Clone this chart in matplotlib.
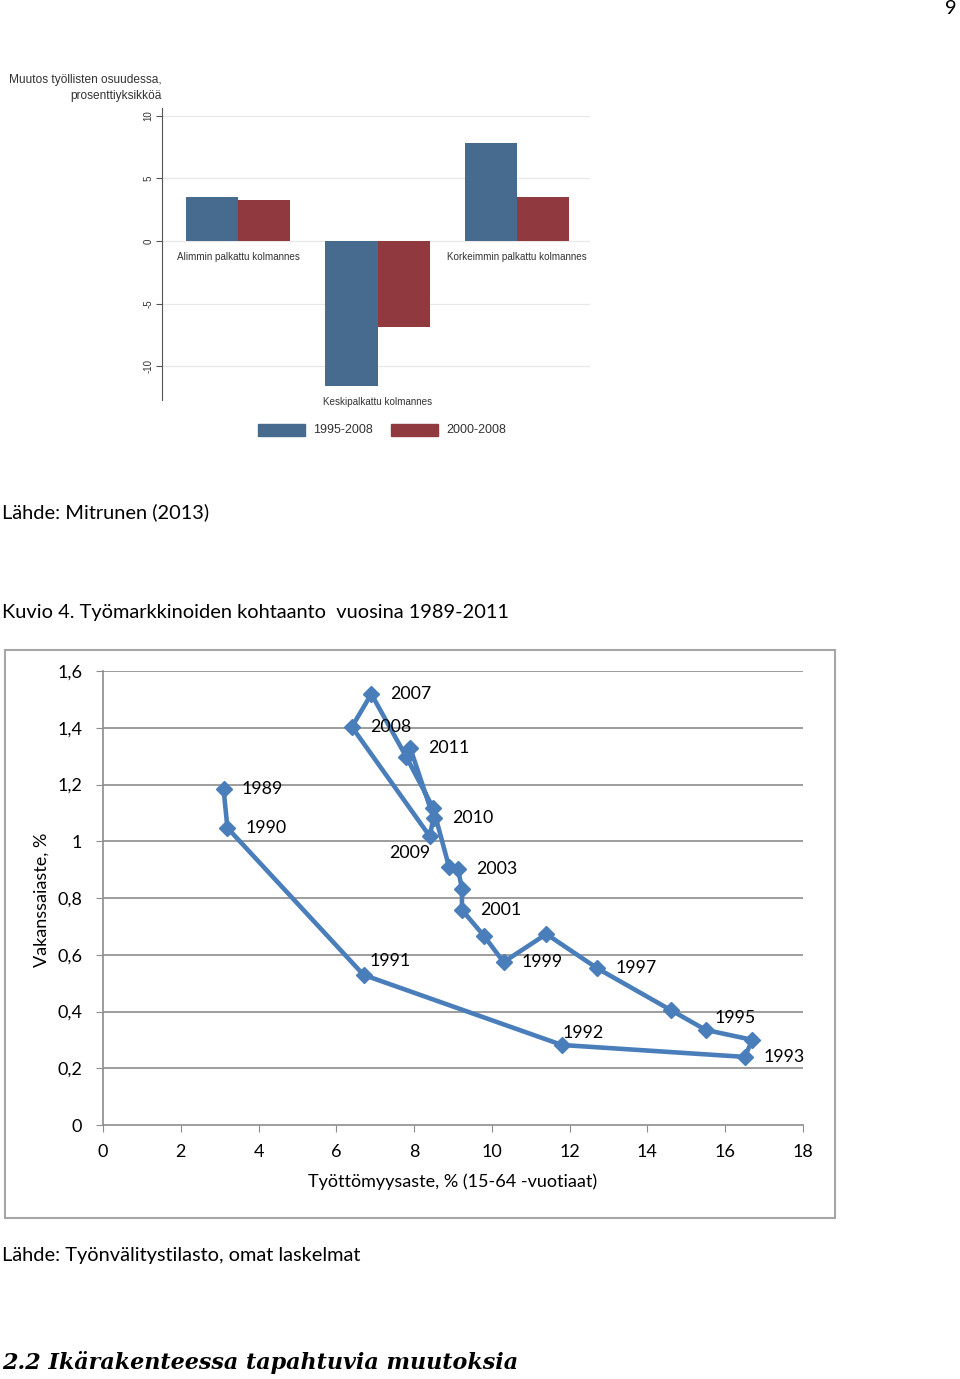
import matplotlib
matplotlib.use("Agg")
import matplotlib.pyplot as plt
from matplotlib.patches import Rectangle

W, H = 960, 1379

# --- bar chart data (upper image)
groups = ["Alimmin palkattu kolmannes", "Keskipalkattu kolmannes", "Korkeimmin palkattu kolmannes"]
change_1995_2008 = [3.5, -11.6, 7.8]
change_2000_2008 = [3.25, -6.9, 3.5]
bar_series = ["1995-2008", "2000-2008"]
bar_yticks = [-10, -5, 0, 5, 10]

# --- Beveridge curve data (lower chart)
years = list(range(1989, 2012))
unemployment = [3.1, 3.2, 6.7, 11.8, 16.5, 16.7, 15.5, 14.6, 12.7, 11.4, 10.3, 9.8,
                9.23, 9.23, 9.13, 8.9, 8.49, 7.8, 6.9, 6.4, 8.4, 8.5, 7.9]
vacancy = [1.184, 1.047, 0.529, 0.282, 0.240, 0.300, 0.335, 0.405, 0.553, 0.673, 0.574, 0.666,
           0.758, 0.832, 0.902, 0.909, 1.117, 1.297, 1.519, 1.403, 1.018, 1.082, 1.329]
labelled_years = [1989, 1990, 1991, 1992, 1993, 1995, 1997, 1999, 2001, 2003,
                  2007, 2008, 2009, 2010, 2011]
x_ticks = list(range(0, 19, 2))
y_ticks = [0, 0.2, 0.4, 0.6, 0.8, 1.0, 1.2, 1.4, 1.6]

# label offsets in pixels (right of the point unless moved)
label_off = {1991: (27, 14), 1992: (21, 12), 1995: (29, 12), 2009: (-20, -17)}

BODY = ["Lato", "DejaVu Sans"]
NARROW = ["Liberation Sans Narrow", "Liberation Sans", "DejaVu Sans"]


def fx(px):
    return px / W


def fy(py):
    return 1 - py / H


fig = plt.figure(figsize=(W / 100, H / 100), dpi=100)

# ---------------- upper bar chart ----------------
blue, red = "#476b8e", "#903a40"
ax1 = fig.add_axes([fx(162), fy(400), fx(590) - fx(162), fy(108) - fy(400)])
pos = range(len(groups))
bw = 0.373
ax1.bar([p - bw / 2 for p in pos], change_1995_2008, bw, color=blue, zorder=3)
ax1.bar([p + bw / 2 for p in pos], change_2000_2008, bw, color=red, zorder=3)
ax1.set_xlim(-0.545, 2.523)
ax1.set_ylim(-12.7, 10.6)
for v in bar_yticks:
    ax1.axhline(v, color="#e8e8e8", lw=0.9, zorder=1)
for s in ["top", "right", "bottom"]:
    ax1.spines[s].set_visible(False)
ax1.spines["left"].set_color("#555555")
ax1.set_xticks([])
ax1.set_yticks(bar_yticks)
ax1.set_yticklabels([str(v) for v in bar_yticks], rotation=90, va="center",
                    fontsize=7, family=NARROW, color="#333333")
ax1.tick_params(axis="y", length=4, color="#555555", pad=2)
for i, g in enumerate(groups):
    base = min(0, change_1995_2008[i], change_2000_2008[i]) if i == 1 else 0
    ax1.annotate(g, (i, base), xytext=(0, -16), textcoords="offset pixels",
                 ha="center", va="center", fontsize=7.1, family=NARROW, color="#333333")
fig.text(fx(162), fy(80), "Muutos työllisten osuudessa,", ha="right", va="center",
         fontsize=8.6, family=NARROW, color="#333333")
fig.text(fx(162), fy(96), "prosenttiyksikköä", ha="right", va="center",
         fontsize=8.6, family=NARROW, color="#333333")
for x0, c, lab in [(258, blue, bar_series[0]), (391, red, bar_series[1])]:
    fig.add_artist(Rectangle((fx(x0), fy(436)), fx(47), 12 / H, color=c,
                             transform=fig.transFigure))
    fig.text(fx(x0 + 55), fy(430), lab, ha="left", va="center", fontsize=9,
             family=NARROW, color="#333333")

# ---------------- page texts ----------------
fig.text(fx(957), fy(9), "9", ha="right", va="center", fontsize=14.4, family=BODY)
fig.text(fx(2), fy(512), "Lähde: Mitrunen (2013)", ha="left", va="center", fontsize=14.4, family=BODY)
fig.text(fx(2), fy(613), "Kuvio 4. Työmarkkinoiden kohtaanto  vuosina 1989-2011",
         ha="left", va="center", fontsize=14.4, family=BODY)
fig.text(fx(2), fy(1256), "Lähde: Työnvälitystilasto, omat laskelmat", ha="left",
         va="center", fontsize=14.4, family=BODY)
fig.text(fx(2), fy(1363), "2.2 Ikärakenteessa tapahtuvia muutoksia", ha="left",
         va="center", fontsize=16, family="DejaVu Serif", weight="bold", style="italic")

# ---------------- lower chart ----------------
fig.add_artist(Rectangle((fx(5), fy(1218)), fx(830), 568 / H, fill=False,
                         edgecolor="#a6a6a6", lw=1.5, transform=fig.transFigure))
ax2 = fig.add_axes([fx(103), fy(1125), fx(700), 454 / H])
ax2.set_xlim(0, 18)
ax2.set_ylim(0, 1.6)
ax2.plot(unemployment, vacancy, color="#4a7ebb", lw=3.3, marker="D", ms=8.5,
         clip_on=False, zorder=3)
for y in y_ticks[1:]:
    ax2.axhline(y, color="#8c8c8c", lw=1.2, zorder=1)
for s in ["top", "right"]:
    ax2.spines[s].set_visible(False)
for s in ["left", "bottom"]:
    ax2.spines[s].set_color("#8c8c8c")
    ax2.spines[s].set_linewidth(1.2)
ax2.set_xticks(x_ticks)
ax2.set_xticklabels([str(v) for v in x_ticks])
ax2.set_yticks(y_ticks)
ax2.set_yticklabels([f"{v:g}".replace(".", ",") for v in y_ticks])
ax2.tick_params(axis="both", length=5, color="#8c8c8c", labelsize=13)
ax2.tick_params(axis="y", pad=10)
ax2.tick_params(axis="x", pad=9)
for t in ax2.get_xticklabels() + ax2.get_yticklabels():
    t.set_family(BODY)
for yr in labelled_years:
    i = years.index(yr)
    dx, dy = label_off.get(yr, (39, 0))
    ax2.annotate(str(yr), (unemployment[i], vacancy[i]), xytext=(dx, dy),
                 textcoords="offset pixels", ha="center", va="center",
                 fontsize=12.8, family=BODY)
fig.text(fx(453), fy(1182), "Työttömyysaste, % (15-64 -vuotiaat)", ha="center",
         va="center", fontsize=13, family=BODY)
fig.text(fx(42), fy(900), "Vakanssaiaste, %", ha="center", va="center",
         rotation=90, fontsize=13, family=BODY)

fig.savefig("out.png", dpi=100)
